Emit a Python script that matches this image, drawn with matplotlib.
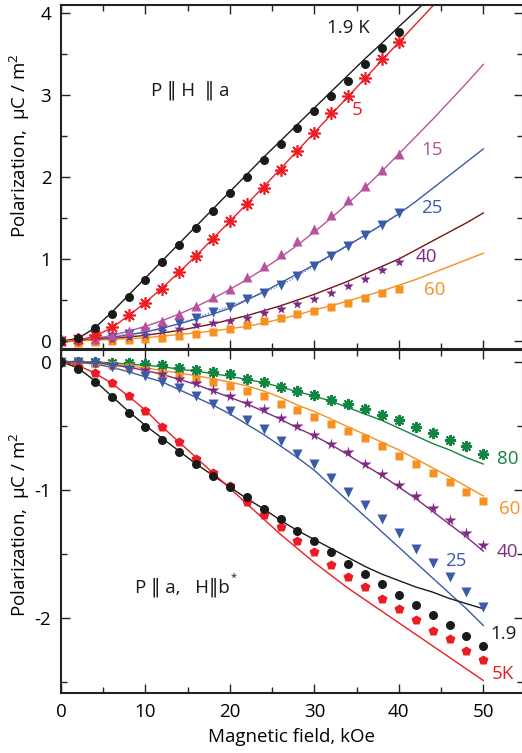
import numpy as np
import matplotlib
matplotlib.use("Agg")
import matplotlib.pyplot as plt
from matplotlib.ticker import MultipleLocator

plt.rcParams['font.family'] = ['Open Sans', 'DejaVu Sans']
plt.rcParams['mathtext.fontset'] = 'custom'
plt.rcParams['mathtext.rm'] = 'Open Sans'

# ---------------- data: top panel (P || H || a) ----------------
h_pts = [0, 2, 4, 6, 8, 10, 12, 14, 16, 18, 20, 22, 24, 26, 28, 30, 32, 34, 36, 38, 40]
top_19K = [0, 0.04, 0.155, 0.33, 0.54, 0.74, 0.96, 1.17, 1.38, 1.59, 1.80, 2.00, 2.20, 2.40, 2.60,
           2.80, 2.99, 3.17, 3.38, 3.57, 3.77]
top_5K = [0, 0.02, 0.07, 0.17, 0.32, 0.47, 0.64, 0.84, 1.04, 1.24, 1.46, 1.67, 1.87, 2.09, 2.31,
          2.54, 2.78, 2.99, 3.20, 3.43, 3.64]
top_15K = [0, 0.02, 0.03, 0.07, 0.12, 0.18, 0.24, 0.33, 0.43, 0.54, 0.64, 0.78, 0.92, 1.06, 1.22,
           1.37, 1.54, 1.72, 1.89, 2.08, 2.28]
top_25K = [0, 0.01, 0.03, 0.05, 0.09, 0.11, 0.15, 0.22, 0.28, 0.36, 0.42, 0.51, 0.59, 0.68, 0.79,
           0.92, 1.04, 1.16, 1.29, 1.41, 1.56]
top_40K = [0, 0.0, 0.02, 0.03, 0.05, 0.08, 0.12, 0.15, 0.19, 0.22, 0.24, 0.28, 0.34, 0.39, 0.45,
           0.51, 0.59, 0.67, 0.76, 0.86, 0.96]
top_60K = [0, -0.02, -0.01, 0.0, 0.01, 0.02, 0.04, 0.06, 0.09, 0.11, 0.15, 0.20, 0.24, 0.28, 0.33,
           0.37, 0.42, 0.47, 0.53, 0.58, 0.64]

# model curves (top)
h_fit_top_low = [0, 2, 4, 6, 8, 10, 12, 14, 16, 18, 20, 22, 24, 26, 28, 30, 32, 34, 36, 38, 40, 42, 44, 46]
fit_top_19K = [0, 0.03, 0.16, 0.35, 0.56, 0.77, 0.98, 1.19, 1.40, 1.61, 1.82, 2.03, 2.24, 2.44, 2.64,
               2.84, 3.04, 3.24, 3.44, 3.63, 3.83, 4.02, 4.22, 4.42]
fit_top_5K = [0, 0.01, 0.06, 0.16, 0.31, 0.47, 0.65, 0.84, 1.04, 1.25, 1.46, 1.67, 1.88, 2.10, 2.32,
              2.54, 2.76, 2.98, 3.20, 3.42, 3.64, 3.86, 4.08, 4.30]
h_fit = [0, 2, 4, 6, 8, 10, 12, 14, 16, 18, 20, 22, 24, 26, 28, 30, 32, 34, 36, 38, 40, 42, 44, 46, 48, 50]
fit_top_15K = [0, 0.01, 0.03, 0.07, 0.12, 0.18, 0.25, 0.33, 0.42, 0.52, 0.63, 0.75, 0.88, 1.02, 1.17,
               1.33, 1.50, 1.68, 1.87, 2.07, 2.28, 2.49, 2.70, 2.92, 3.14, 3.37]
fit_top_25K = [0, 0.005, 0.02, 0.045, 0.075, 0.11, 0.16, 0.21, 0.27, 0.33, 0.40, 0.50, 0.60, 0.71, 0.82,
               0.93, 1.05, 1.17, 1.29, 1.42, 1.55, 1.70, 1.86, 2.02, 2.18, 2.34]
fit_top_40K = [0, 0.005, 0.015, 0.03, 0.05, 0.07, 0.10, 0.13, 0.17, 0.21, 0.26, 0.31, 0.37, 0.43, 0.50,
               0.57, 0.65, 0.73, 0.82, 0.91, 1.00, 1.11, 1.22, 1.33, 1.44, 1.56]
fit_top_60K = [0, 0.003, 0.01, 0.02, 0.03, 0.04, 0.06, 0.08, 0.10, 0.125, 0.15, 0.18, 0.22, 0.27, 0.32,
               0.38, 0.43, 0.49, 0.55, 0.61, 0.68, 0.75, 0.83, 0.91, 0.99, 1.07]

# ---------------- data: bottom panel (P || a, H || b*) ----------------
h_pts_b = [0, 2, 4, 6, 8, 10, 12, 14, 16, 18, 20, 22, 24, 26, 28, 30, 32, 34, 36, 38, 40, 42, 44, 46, 48, 50]
bot_19K = [0, -0.057, -0.157, -0.28, -0.40, -0.51, -0.61, -0.71, -0.80, -0.89, -0.98, -1.06, -1.15,
           -1.23, -1.32, -1.40, -1.49, -1.58, -1.66, -1.74, -1.82, -1.90, -1.98, -2.06, -2.14, -2.22]
bot_5K = [0, -0.04, -0.086, -0.17, -0.27, -0.39, -0.51, -0.63, -0.76, -0.87, -0.97, -1.10, -1.20,
          -1.29, -1.40, -1.49, -1.59, -1.68, -1.76, -1.85, -1.93, -2.02, -2.10, -2.17, -2.26, -2.33]
bot_25K = [0, 0.0, -0.01, -0.04, -0.07, -0.11, -0.16, -0.21, -0.27, -0.33, -0.39, -0.46, -0.53,
           -0.62, -0.72, -0.80, -0.91, -1.02, -1.12, -1.23, -1.34, -1.46, -1.57, -1.68, -1.80, -1.92]
bot_40K = [0, 0.0, -0.01, -0.03, -0.05, -0.07, -0.10, -0.14, -0.17, -0.22, -0.27, -0.32, -0.37,
           -0.44, -0.50, -0.57, -0.64, -0.71, -0.80, -0.88, -0.96, -1.05, -1.14, -1.24, -1.34, -1.43]
bot_60K = [0, 0.0, -0.01, -0.03, -0.04, -0.07, -0.09, -0.11, -0.14, -0.16, -0.19, -0.23, -0.27,
           -0.33, -0.38, -0.43, -0.49, -0.54, -0.60, -0.66, -0.74, -0.80, -0.87, -0.94, -1.02, -1.09]
bot_80K = [0, 0.0, 0.0, -0.01, -0.01, -0.02, -0.03, -0.05, -0.07, -0.08, -0.10, -0.14, -0.16,
           -0.20, -0.23, -0.26, -0.30, -0.33, -0.37, -0.42, -0.46, -0.51, -0.56, -0.61, -0.66, -0.72]

fit_bot_19K = [0, -0.05, -0.15, -0.27, -0.39, -0.50, -0.60, -0.70, -0.80, -0.89, -0.98, -1.07, -1.15,
               -1.24, -1.32, -1.39, -1.46, -1.53, -1.60, -1.66, -1.71, -1.76, -1.80, -1.85, -1.89, -1.93]
fit_bot_5K = [0, -0.03, -0.09, -0.17, -0.27, -0.38, -0.51, -0.63, -0.75, -0.87, -0.99, -1.11, -1.23,
              -1.35, -1.46, -1.57, -1.67, -1.77, -1.86, -1.95, -2.04, -2.13, -2.22, -2.31, -2.40, -2.49]
fit_bot_25K = [0, -0.005, -0.02, -0.045, -0.08, -0.12, -0.16, -0.22, -0.28, -0.34, -0.41, -0.49, -0.57,
               -0.66, -0.75, -0.85, -0.97, -1.09, -1.21, -1.33, -1.45, -1.57, -1.69, -1.81, -1.93, -2.06]
fit_bot_40K = [0, -0.003, -0.01, -0.025, -0.045, -0.07, -0.10, -0.14, -0.18, -0.23, -0.28, -0.33, -0.39,
               -0.45, -0.52, -0.58, -0.65, -0.73, -0.81, -0.89, -0.98, -1.07, -1.17, -1.27, -1.37, -1.48]
fit_bot_60K = [0, -0.002, -0.008, -0.02, -0.035, -0.05, -0.07, -0.09, -0.11, -0.135, -0.16, -0.19, -0.23,
               -0.28, -0.34, -0.39, -0.45, -0.51, -0.57, -0.63, -0.69, -0.76, -0.83, -0.90, -0.975, -1.05]
fit_bot_80K = [0, -0.001, -0.004, -0.01, -0.02, -0.03, -0.04, -0.06, -0.075, -0.095, -0.115, -0.14, -0.165,
               -0.20, -0.235, -0.27, -0.31, -0.36, -0.41, -0.46, -0.52, -0.58, -0.64, -0.69, -0.75, -0.80]

# ---------------- colours ----------------
C_BLACK = '#1a1a1a'
C_RED = '#ed1c24'
C_MAG = '#b8529e'
C_BLUE = '#3b5ba8'
C_PURP = '#7d2a83'
C_MAROON = '#7a1416'
C_ORANGE = '#f7901e'
C_GREEN = '#138543'

FS = 13.5
fig = plt.figure(figsize=(5.22, 7.53), dpi=100)
W, H = 522.0, 753.0
x_left, x_right = 61 / W, 523 / W
ax1 = fig.add_axes([x_left, 1 - 349.3 / H, x_right - x_left, (349.3 - 5.3) / H])
ax2 = fig.add_axes([x_left, 1 - 693.3 / H, x_right - x_left, (693.3 - 350.0) / H])

ast = (8, 2, 0)
lw = 1.0

# top panel
ax1.plot(h_fit_top_low, fit_top_19K, color=C_BLACK, lw=lw)
ax1.plot(h_fit_top_low, fit_top_5K, color=C_RED, lw=lw)
ax1.plot(h_fit, fit_top_15K, color=C_MAG, lw=lw)
ax1.plot(h_fit, fit_top_25K, color=C_BLUE, lw=lw)
ax1.plot(h_pts, top_25K, color=C_BLUE, lw=0.8, ls=':')
ax1.plot(h_fit, fit_top_40K, color=C_MAROON, lw=lw)
ax1.plot(h_fit, fit_top_60K, color=C_ORANGE, lw=lw)

ax1.plot(h_pts, top_60K, 's', color=C_ORANGE, ms=6, mec='none')
ax1.plot(h_pts, top_40K, '*', color=C_PURP, ms=8, mec='none')
ax1.plot(h_pts, top_25K, 'v', color=C_BLUE, ms=7, mec='none')
ax1.plot(h_pts, top_15K, '^', color=C_MAG, ms=7, mec='none')
ax1.plot(h_pts, top_5K, ls='none', marker=ast, color=C_RED, ms=9, mew=1.2)
ax1.plot(h_pts, top_19K, 'o', color=C_BLACK, ms=6.5, mec='none')

# bottom panel
ax2.plot(h_pts_b, fit_bot_80K, color=C_GREEN, lw=lw)
ax2.plot(h_pts_b, fit_bot_60K, color=C_ORANGE, lw=lw)
ax2.plot(h_pts_b, fit_bot_40K, color=C_PURP, lw=lw)
ax2.plot(h_pts_b, fit_bot_25K, color=C_BLUE, lw=lw)
ax2.plot(h_pts_b, fit_bot_19K, color=C_BLACK, lw=lw)
ax2.plot(h_pts_b, fit_bot_5K, color=C_RED, lw=lw)

ax2.plot(h_pts_b, bot_80K, ls='none', marker=ast, color=C_GREEN, ms=8, mew=1.5)
ax2.plot(h_pts_b, bot_60K, 's', color=C_ORANGE, ms=6, mec='none')
ax2.plot(h_pts_b, bot_40K, '*', color=C_PURP, ms=8.5, mec='none')
ax2.plot(h_pts_b, bot_25K, 'v', color=C_BLUE, ms=7.5, mec='none')
ax2.plot(h_pts_b, bot_5K, 'p', color=C_RED, ms=7, mec='none')
ax2.plot(h_pts_b, bot_19K, 'o', color=C_BLACK, ms=6.5, mec='none')

for ax in (ax1, ax2):
    ax.set_xlim(0, 54.7)
    ax.xaxis.set_major_locator(MultipleLocator(10))
    ax.xaxis.set_minor_locator(MultipleLocator(5))
    ax.yaxis.set_major_locator(MultipleLocator(1))
    ax.yaxis.set_minor_locator(MultipleLocator(0.5))
    ax.tick_params(which='both', direction='in', top=True, right=True, width=1.0,
                   labelsize=FS, color='#222222')
    ax.tick_params(which='major', length=6.5, pad=7)
    ax.tick_params(which='minor', length=4)
    for s in ax.spines.values():
        s.set_linewidth(1.5)
        s.set_color('#222222')

ax1.set_ylim(-0.1, 4.09)
ax1.tick_params(axis='x', labelbottom=False)
ax1.set_yticks([0, 1, 2, 3, 4])
ax1.set_yticklabels(['0', '1', '2', '3', '4'])

ax2.set_ylim(-2.59, 0.09)
ax2.set_yticks([0, -1, -2])
ax2.set_yticklabels(['0', '-1', '-2'])
ax2.set_xticks([0, 10, 20, 30, 40, 50])
ax2.set_xticklabels(['0', '10', '20', '30', '40', '50'])
ax2.set_xlabel('Magnetic field, kOe', fontsize=FS, labelpad=5)

ylab = 'Polarization,  \u03bcC / m$^2$'
ax1.set_ylabel(ylab, fontsize=FS)
ax2.set_ylabel(ylab, fontsize=FS)
ax1.yaxis.set_label_coords(-0.063, 0.593)
ax2.yaxis.set_label_coords(-0.063, 0.49)

# annotations top
ax1.text(31.5, 3.81, '1.9 K', color=C_BLACK, fontsize=FS, va='center', ha='left')
ax1.text(34.4, 2.82, '5', color=C_RED, fontsize=FS, va='center', ha='left')
ax1.text(42.6, 2.33, '15', color=C_MAG, fontsize=FS, va='center', ha='left')
ax1.text(42.6, 1.62, '25', color=C_BLUE, fontsize=FS, va='center', ha='left')
ax1.text(42.0, 1.02, '40', color=C_PURP, fontsize=FS, va='center', ha='left')
ax1.text(43.0, 0.62, '60', color=C_ORANGE, fontsize=FS, va='center', ha='left')
ax1.text(10.7, 3.05, 'P \u2016 H  \u2016 a', color=C_BLACK, fontsize=FS, va='center', ha='left')

# annotations bottom
ax2.text(51.6, -0.76, '80', color=C_GREEN, fontsize=FS, va='center', ha='left')
ax2.text(51.8, -1.15, '60', color=C_ORANGE, fontsize=FS, va='center', ha='left')
ax2.text(51.6, -1.49, '40', color=C_PURP, fontsize=FS, va='center', ha='left')
ax2.text(45.5, -1.56, '25', color=C_BLUE, fontsize=FS, va='center', ha='left')
ax2.text(50.8, -2.13, '1.9', color=C_BLACK, fontsize=FS, va='center', ha='left')
ax2.text(51.0, -2.44, '5K', color=C_RED, fontsize=FS, va='center', ha='left')
t_b = ax2.text(8.8, -1.76, 'P \u2016 a,   H\u2016b', color=C_BLACK, fontsize=FS,
               va='center', ha='left')
ax2.annotate('*', xy=(1.0, 1.0), xycoords=t_b, xytext=(0.5, 4), textcoords='offset points',
             ha='left', va='top', fontsize=8, color=C_BLACK)

fig.savefig('out.png', dpi=100)
